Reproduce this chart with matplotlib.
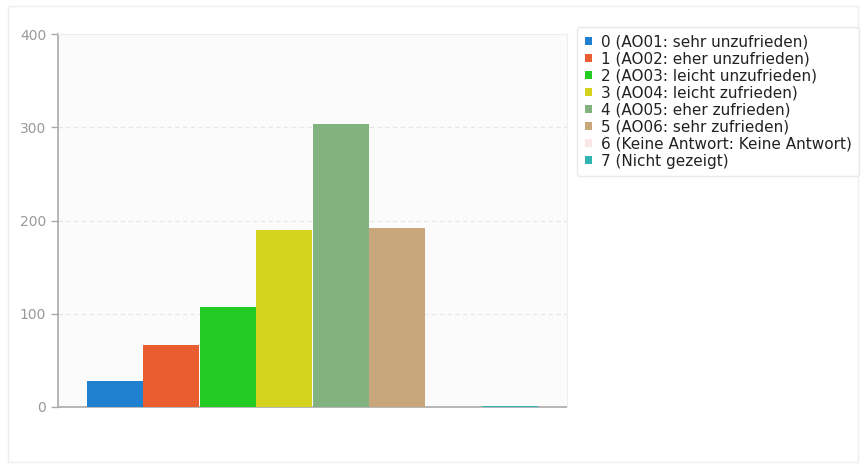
import matplotlib
matplotlib.use("Agg")
import matplotlib.pyplot as plt
from matplotlib.patches import Patch, FancyBboxPatch

labels = ["0 (AO01: sehr unzufrieden)", "1 (AO02: eher unzufrieden)",
          "2 (AO03: leicht unzufrieden)", "3 (AO04: leicht zufrieden)",
          "4 (AO05: eher zufrieden)", "5 (AO06: sehr zufrieden)",
          "6 (Keine Antwort: Keine Antwort)", "7 (Nicht gezeigt)"]
values = [28, 66, 107, 190, 304, 192, 0, 1]
colors = ["#1f80d0", "#e85e30", "#22cc22", "#d4d41e", "#82b27e", "#c9a77c", "#fbe6e6", "#30b4b4"]
yticks = [0, 100, 200, 300, 400]

plt.rcParams['font.family'] = ['DejaVu Sans']
fig = plt.figure(figsize=(8.66, 4.68), dpi=100)
fig.patch.set_facecolor("white")
# outer frame
fig.patches.append(FancyBboxPatch((8/866, 6/468), 850/866, 456/468,
                                  boxstyle="square,pad=0", transform=fig.transFigure,
                                  fill=False, edgecolor="#eeeeee", linewidth=1))

ax = fig.add_axes([58/866, 61/468, 509/866, 373/468])
ax.set_facecolor("#fbfbfb")
x = list(range(len(values)))
ax.bar(x, values, width=0.99, color=colors, edgecolor="none", zorder=3)
ax.set_xlim(-1, 8)
ax.set_ylim(0, 400)
ax.set_yticks(yticks)
ax.set_xticks([])
ax.grid(axis="y", color="#e6e6e6", linestyle=(0, (4, 3)), linewidth=0.8, zorder=0)
for s in ["top", "right"]:
    ax.spines[s].set_color("#eeeeee")
for s in ["left", "bottom"]:
    ax.spines[s].set_color("#aaaaaa")
    ax.spines[s].set_linewidth(1.2)
    ax.spines[s].set_zorder(2)
ax.tick_params(axis="y", colors="#aaaaaa", labelcolor="#999999", labelsize=10, length=5, width=1)

handles = [Patch(facecolor=c, edgecolor="none") for c in colors]
leg = fig.legend(handles, labels, loc="upper left", bbox_to_anchor=(577/866, 1 - 27/468),
                 frameon=True, fontsize=11, handlelength=0.45, handleheight=0.45,
                 handletextpad=0.6, labelspacing=0.13, borderpad=0.5, borderaxespad=0,
                 fancybox=True)
leg.get_frame().set_edgecolor("#e4e4e4")
leg.get_frame().set_linewidth(1)
for t in leg.get_texts():
    t.set_color("#222222")

fig.savefig("out.png", dpi=100, facecolor="white")
